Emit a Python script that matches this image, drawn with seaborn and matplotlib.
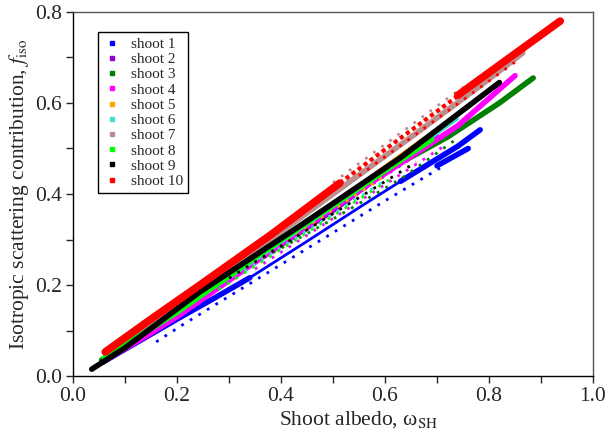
import pandas as pd
import seaborn as sns
import matplotlib.pyplot as plt
from matplotlib.lines import Line2D
from matplotlib.ticker import MultipleLocator

# Shoot names and colours
shoots = ['shoot 1', 'shoot 2', 'shoot 3', 'shoot 4', 'shoot 5',
          'shoot 6', 'shoot 7', 'shoot 8', 'shoot 9', 'shoot 10']
colors = ['#0000ff', '#9400d3', '#008000', '#ff00ff', '#ffa500',
          '#40e0d0', '#bc8f8f', '#00ff00', '#000000', '#ff0000']

# Dense bands of points, per shoot
s1_band_x = [0.058, 0.12, 0.20, 0.27, 0.34]
s1_band_y = [0.031, 0.072, 0.125, 0.170, 0.216]
s1_thin_x = [0.34, 0.45, 0.55, 0.63]
s1_thin_y = [0.216, 0.296, 0.370, 0.428]
s1_top_x = [0.63, 0.69, 0.74, 0.783]
s1_top_y = [0.428, 0.470, 0.505, 0.541]
s1_loop_x = [0.70, 0.76]
s1_loop_y = [0.462, 0.500]
s2_band_x = [0.06, 0.15, 0.30, 0.50, 0.70]
s2_band_y = [0.030, 0.090, 0.210, 0.360, 0.530]
s3_band_x = [0.055, 0.15, 0.30, 0.45, 0.60, 0.72, 0.82, 0.885]
s3_band_y = [0.035, 0.105, 0.225, 0.340, 0.450, 0.525, 0.600, 0.655]
s4_band_x = [0.06, 0.20, 0.35, 0.50, 0.62, 0.74, 0.85]
s4_band_y = [0.033, 0.130, 0.250, 0.370, 0.460, 0.550, 0.660]
s5_band_x = [0.07, 0.30, 0.55, 0.78]
s5_band_y = [0.045, 0.220, 0.420, 0.610]
s6_band_x = [0.07, 0.30, 0.55, 0.74]
s6_band_y = [0.045, 0.215, 0.410, 0.565]
s7_band_x = [0.07, 0.20, 0.35, 0.50, 0.65, 0.78, 0.865]
s7_band_y = [0.050, 0.155, 0.275, 0.400, 0.525, 0.635, 0.710]
s8_band_x = [0.06, 0.20, 0.35, 0.50, 0.69]
s8_band_y = [0.040, 0.140, 0.260, 0.375, 0.520]
s9_band_x = [0.036, 0.10, 0.244, 0.43, 0.63, 0.82]
s9_band_y = [0.015, 0.062, 0.185, 0.325, 0.480, 0.645]
s10_low_x = [0.062, 0.15, 0.244, 0.38, 0.513]
s10_low_y = [0.053, 0.125, 0.200, 0.310, 0.424]
s10_high_x = [0.74, 0.84, 0.937]
s10_high_y = [0.617, 0.700, 0.780]

# Sparse trails of points, per shoot
s1_dots_x = [0.16, 0.21, 0.40, 0.60, 0.71]
s1_dots_y = [0.075, 0.112, 0.245, 0.385, 0.460]
s2_dots_x = [0.40, 0.70]
s2_dots_y = [0.290, 0.515]
s3_dots_x = [0.25, 0.36, 0.50, 0.633, 0.74]
s3_dots_y = [0.185, 0.255, 0.345, 0.435, 0.523]
s4_dots_x = [0.35, 0.72]
s4_dots_y = [0.235, 0.510]
s5_dots_x = [0.30, 0.60]
s5_dots_y = [0.215, 0.440]
s6_dots_x = [0.33, 0.60]
s6_dots_y = [0.230, 0.430]
s7_dots_x = [0.50, 0.75]
s7_dots_y = [0.425, 0.635]
s8_dots_x = [0.28, 0.62]
s8_dots_y = [0.190, 0.440]
s9_dots_x = [0.30, 0.66]
s9_dots_y = [0.215, 0.470]
s10_chain_x = [0.513, 0.63, 0.76]
s10_chain_y = [0.424, 0.523, 0.632]
s10_dots_x = [0.55, 0.85]
s10_dots_y = [0.440, 0.690]

# (shoot index, x, y, kind) ; kind: band / thin / dots / chain
segments = [
    (0, s1_band_x, s1_band_y, 'band'), (0, s1_thin_x, s1_thin_y, 'thin'),
    (0, s1_top_x, s1_top_y, 'band'), (0, s1_loop_x, s1_loop_y, 'band'),
    (0, s1_dots_x, s1_dots_y, 'dots'),
    (1, s2_band_x, s2_band_y, 'thin'), (1, s2_dots_x, s2_dots_y, 'dots'),
    (2, s3_band_x, s3_band_y, 'band'), (2, s3_dots_x, s3_dots_y, 'dots'),
    (3, s4_band_x, s4_band_y, 'band'), (3, s4_dots_x, s4_dots_y, 'dots'),
    (4, s5_band_x, s5_band_y, 'thin'), (4, s5_dots_x, s5_dots_y, 'dots'),
    (5, s6_band_x, s6_band_y, 'thin'), (5, s6_dots_x, s6_dots_y, 'dots'),
    (6, s7_band_x, s7_band_y, 'band'), (6, s7_dots_x, s7_dots_y, 'dots'),
    (7, s8_band_x, s8_band_y, 'band'), (7, s8_dots_x, s8_dots_y, 'dots'),
    (8, s9_band_x, s9_band_y, 'band'), (8, s9_dots_x, s9_dots_y, 'dots'),
    (9, s10_low_x, s10_low_y, 'wide'), (9, s10_chain_x, s10_chain_y, 'chain'),
    (9, s10_high_x, s10_high_y, 'wide'), (9, s10_dots_x, s10_dots_y, 'dots'),
]

styles = {
    'band': dict(linewidth=4, solid_capstyle='round'),
    'wide': dict(linewidth=5.5, solid_capstyle='round'),
    'thin': dict(linewidth=2, solid_capstyle='round'),
    'dots': dict(linewidth=2, linestyle=(0, (1, 2.6))),
    'chain': dict(linewidth=3, linestyle=(0, (1, 0.8))),
}

sns.set_style('ticks')
plt.rcParams['font.family'] = ['Liberation Serif', 'DejaVu Serif']
plt.rcParams['mathtext.fontset'] = 'stix'

fig = plt.figure(figsize=(6.09, 4.36), dpi=100)
ax = fig.add_axes([0.1199, 0.1376, 0.8538, 0.8349])

for i, xs, ys, kind in segments:
    df = pd.DataFrame({'x': xs, 'y': ys})
    sns.lineplot(data=df, x='x', y='y', sort=False, estimator=None,
                 color=colors[i], ax=ax, **styles[kind])

ax.set_xlim(0, 1.0)
ax.set_ylim(0, 0.8)
ax.xaxis.set_major_locator(MultipleLocator(0.2))
ax.xaxis.set_minor_locator(MultipleLocator(0.1))
ax.yaxis.set_major_locator(MultipleLocator(0.2))
ax.yaxis.set_minor_locator(MultipleLocator(0.1))
ax.tick_params(which='major', direction='out', length=5, width=1,
               labelsize=15.5, pad=3)
ax.tick_params(which='minor', direction='out', length=5, width=1)
for side in ['left', 'bottom', 'top', 'right']:
    ax.spines[side].set_color('#555555')
    ax.spines[side].set_linewidth(1)
ax.spines['left'].set_color('black')
ax.spines['bottom'].set_color('black')

ax.set_xlabel(r'Shoot albedo, ω$_{\rm SH}$', fontsize=15.5)
ax.xaxis.set_label_coords(0.55, -0.092)
ax.set_ylabel(r'Isotropic scattering contribution, $f_{\rm iso}$',
              fontsize=15.5, labelpad=3)

handles = [Line2D([], [], marker='s', markersize=2.2, linestyle='none', color=c)
           for c in colors]
leg = ax.legend(handles, shoots, loc='upper left', bbox_to_anchor=(0.048, 0.945),
                fontsize=11, frameon=True, fancybox=False, framealpha=1,
                edgecolor='black', labelspacing=0.1, handlelength=1.2,
                handletextpad=0.6, borderpad=0.35, borderaxespad=0)
leg.get_frame().set_linewidth(1)

plt.savefig('out.png', dpi=100)
plt.close()
